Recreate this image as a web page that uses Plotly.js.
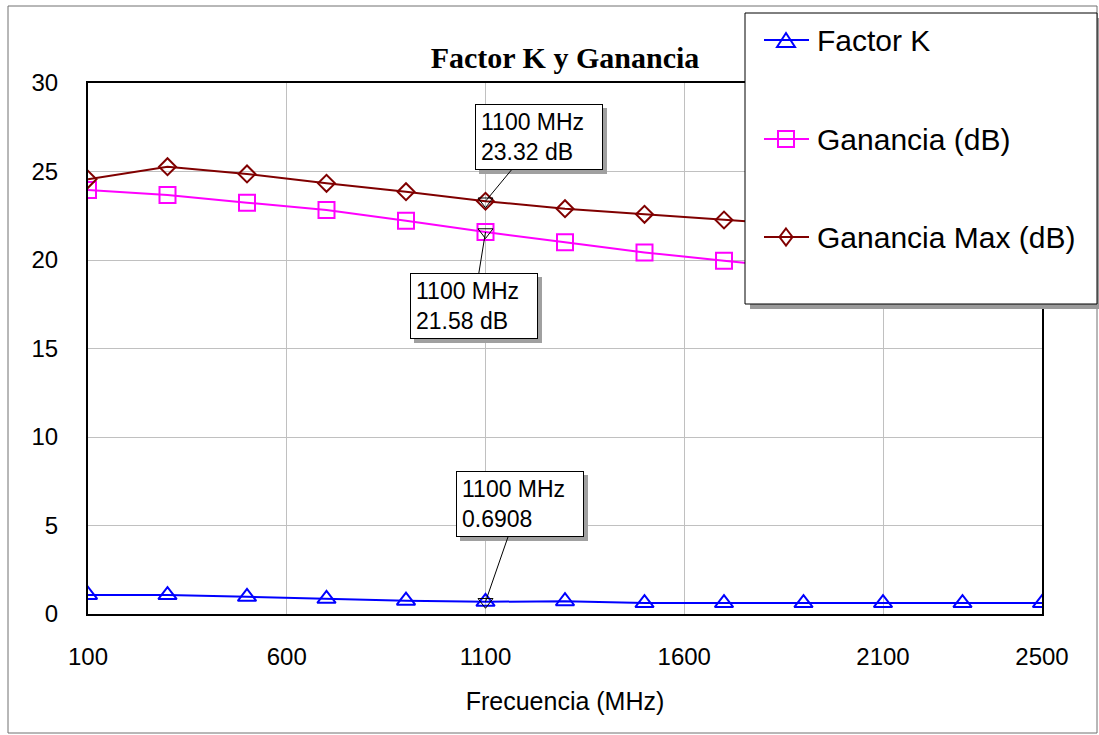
<!DOCTYPE html>
<html><head><meta charset="utf-8">
<script src="https://cdn.plot.ly/plotly-3.0.1.min.js"></script>
<style>html,body{margin:0;padding:0;background:#fff}#chart{width:1099px;height:735px}</style>
</head><body><div id="chart"></div>
<script>
const freq = [100, 300, 500, 700, 900, 1100, 1300, 1500, 1700, 1900, 2100, 2300, 2500];
const factorK = [1.08, 1.07, 0.97, 0.86, 0.75, 0.6908, 0.72, 0.62, 0.62, 0.62, 0.62, 0.62, 0.62];
const ganancia = [23.95, 23.67, 23.24, 22.82, 22.22, 21.58, 21.0, 20.43, 19.96, 19.5, 19.1, 18.7, 18.3];
const gananciaMax = [24.56, 25.27, 24.86, 24.33, 23.86, 23.32, 22.9, 22.58, 22.26, 21.95, 21.65, 21.4, 21.1];
const markerFreq = 1100;
const markerGmax = 23.32;
const markerG = 21.58;
const markerK = 0.6908;
const xTicks = [100, 600, 1100, 1600, 2100, 2500];
const yTicks = [0, 5, 10, 15, 20, 25, 30];
const seriesNames = ['Factor K', 'Ganancia (dB)', 'Ganancia Max (dB)'];
const seriesColors = ['#0000ff', '#ff00ff', '#800000'];
const titleText = 'Factor K y Ganancia';
const xTitle = 'Frecuencia (MHz)';

const W = 1099, H = 735, L = 88, R = 1042, T = 83, B = 614;
const px = x => (x - L) / (R - L);
const py = y => (B - y) / (B - T);
const SANS = 'Liberation Sans, Arial, sans-serif';

const traces = [
  {x: freq, y: factorK, name: seriesNames[0], mode: 'lines+markers',
   line: {color: seriesColors[0], width: 2},
   marker: {symbol: 'triangle-up-open', size: 16, color: seriesColors[0], line: {width: 2, color: seriesColors[0]}}},
  {x: freq, y: ganancia, name: seriesNames[1], mode: 'lines+markers',
   line: {color: seriesColors[1], width: 2},
   marker: {symbol: 'square-open', size: 16, color: seriesColors[1], line: {width: 2, color: seriesColors[1]}}},
  {x: freq, y: gananciaMax, name: seriesNames[2], mode: 'lines+markers',
   line: {color: seriesColors[2], width: 2},
   marker: {symbol: 'diamond-open', size: 13, color: seriesColors[2], line: {width: 2, color: seriesColors[2]}}},
  {x: [markerFreq, markerFreq, markerFreq], y: [markerGmax, markerG, markerK], mode: 'markers',
   marker: {symbol: 'triangle-down-open', size: 13, color: 'black', line: {width: 1, color: 'black'}}}
];

function rectPx(x0, y0, x1, y1, fill, lineColor, lw) {
  return {type: 'rect', xref: 'paper', yref: 'paper', layer: 'above',
    x0: px(x0), x1: px(x1), y0: py(y1), y1: py(y0),
    fillcolor: fill, line: {color: lineColor, width: lw}};
}
function pathPx(pts, color) {
  const d = pts.map((p, i) => (i ? 'L' : 'M') + px(p[0]) + ',' + py(p[1])).join(' ') + ' Z';
  return {type: 'path', xref: 'paper', yref: 'paper', layer: 'above', path: d,
    line: {color: color, width: 2}};
}
function linePx(x0, x1, y, color) {
  return {type: 'line', xref: 'paper', yref: 'paper', layer: 'above',
    x0: px(x0), x1: px(x1), y0: py(y), y1: py(y), line: {color: color, width: 2}};
}

const legendY = [40, 139, 237];
const shapes = [
  rectPx(8, 6, 1097, 733, 'rgba(0,0,0,0)', '#707070', 1),
  rectPx(750, 18, 1103, 309, '#9a9a9a', '#9a9a9a', 0),
  rectPx(745, 13, 1097, 304, 'white', 'black', 1),
  linePx(764, 809, legendY[0], seriesColors[0]),
  pathPx([[777, legendY[0] + 7], [786, legendY[0] - 7], [795, legendY[0] + 7]], seriesColors[0]),
  linePx(764, 809, legendY[1], seriesColors[1]),
  pathPx([[778, legendY[1] - 8], [794, legendY[1] - 8], [794, legendY[1] + 8], [778, legendY[1] + 8]], seriesColors[1]),
  linePx(764, 809, legendY[2], seriesColors[2]),
  pathPx([[786, legendY[2] - 8.5], [792.5, legendY[2]], [786, legendY[2] + 8.5], [779.5, legendY[2]]], seriesColors[2])
];

const annotations = [];
seriesNames.forEach((n, i) => {
  annotations.push({xref: 'paper', yref: 'paper', x: px(815), y: py(legendY[i]), xanchor: 'left', yanchor: 'middle',
    text: n, showarrow: false, font: {family: SANS, size: 30, color: 'black'}});
});

function callout(yv, text, ax, ay) {
  const base = {x: markerFreq, y: yv, xref: 'x', yref: 'y', showarrow: true,
    arrowhead: 0, arrowwidth: 1, ax: ax, ay: ay, align: 'left', borderpad: 5, borderwidth: 1,
    width: 116, height: 54};
  annotations.push(Object.assign({}, base, {text: ' ', bgcolor: '#a0a0a0', bordercolor: '#a0a0a0',
    arrowcolor: 'rgba(0,0,0,0)', font: {family: SANS, size: 23, color: '#a0a0a0'}, xshift: 4, yshift: -4}));
  annotations.push(Object.assign({}, base, {text: text, bgcolor: 'white', bordercolor: 'black', arrowcolor: 'black',
    font: {family: SANS, size: 23, color: 'black'}}));
}
callout(markerGmax, markerFreq + ' MHz<br>' + markerGmax + ' dB', 53, -64);
callout(markerG, markerFreq + ' MHz<br>' + markerG + ' dB', -12, 74);
callout(markerK, markerFreq + ' MHz<br>' + markerK, 34, -98);

const layout = {
  width: W, height: H,
  margin: {l: L, r: W - R, t: T, b: H - B, pad: 0},
  paper_bgcolor: 'white', plot_bgcolor: 'white',
  showlegend: false, hovermode: false,
  title: {text: '<b>' + titleText + '</b>', x: 0.5, xref: 'paper', xanchor: 'center',
    y: 1 - 57 / H, yref: 'container', yanchor: 'middle',
    font: {family: 'Liberation Serif, Times New Roman, serif', size: 30, color: 'black'}},
  xaxis: {range: [100, 2500], tickvals: xTicks, ticktext: xTicks.map(String),
    showgrid: true, gridcolor: '#c0c0c0', gridwidth: 1, zeroline: false,
    showline: true, linecolor: 'black', linewidth: 2, mirror: true,
    ticks: 'outside', ticklen: 20, tickcolor: 'rgba(0,0,0,0)',
    tickfont: {family: SANS, size: 24, color: 'black'},
    title: {text: xTitle, standoff: 24, font: {family: SANS, size: 25, color: 'black'}}},
  yaxis: {range: [0, 30], tickvals: yTicks, ticktext: yTicks.map(String),
    showgrid: true, gridcolor: '#c0c0c0', gridwidth: 1, zeroline: false,
    showline: true, linecolor: 'black', linewidth: 2, mirror: true,
    ticks: 'outside', ticklen: 23, tickcolor: 'rgba(0,0,0,0)',
    tickfont: {family: SANS, size: 24, color: 'black'}},
  shapes: shapes,
  annotations: annotations
};

Plotly.newPlot('chart', traces, layout, {displayModeBar: false, staticPlot: true});
</script>
</body></html>
